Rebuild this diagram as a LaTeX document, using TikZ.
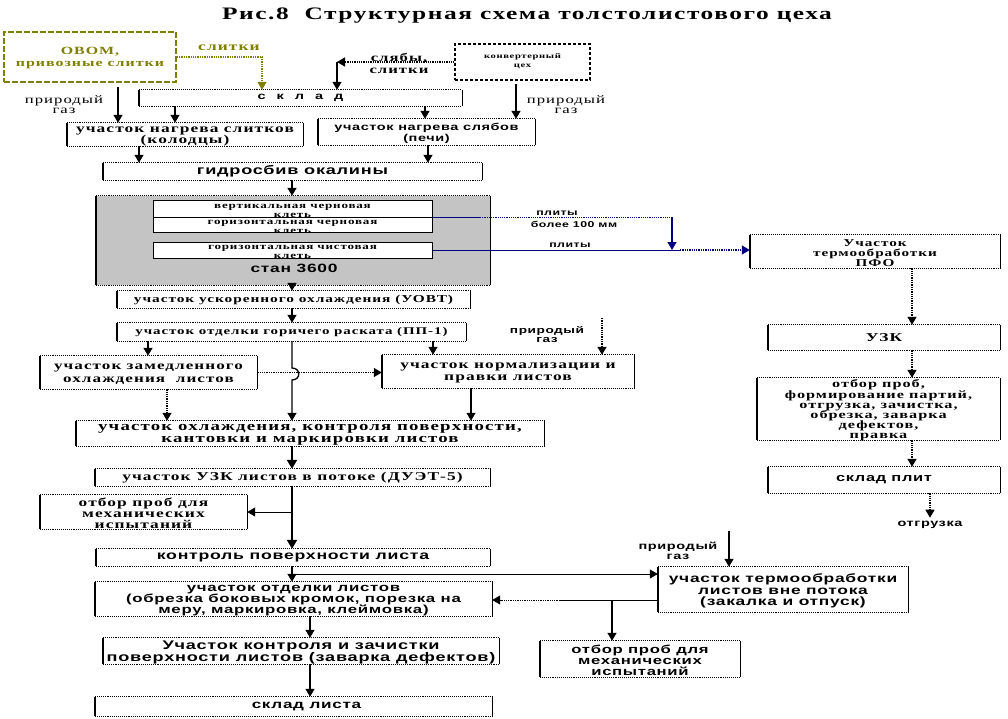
\documentclass[tikz,border=0pt]{standalone}
\usepackage{fontspec}
\newfontfamily\fsr[FakeStretch=1.45,LetterSpace=9]{Liberation Serif}
\newfontfamily\fss[FakeStretch=1.45,LetterSpace=6]{Liberation Sans}
\usetikzlibrary{arrows.meta,calc}
\definecolor{olivec}{HTML}{808000}
\definecolor{navyc}{HTML}{000080}
\definecolor{grayf}{HTML}{C4C4C4}
\newcommand\zb[1]{\raisebox{\dimexpr(\depth-\height)/2-1.5pt\relax}[0pt][0pt]{\vbox{\lineskiplimit=-100pt\def\\{\cr}\halign{\hfil##\hfil\cr#1\crcr}}}}
\tikzset{
  box/.style={fill=white, inner sep=0pt, anchor=center,
    append after command={
      (\tikzlastnode.north west) edge[line width=1.4pt] (\tikzlastnode.south west)
      (\tikzlastnode.north east) edge[line width=1.4pt] (\tikzlastnode.south east)
      (\tikzlastnode.north west) edge[line width=1.1pt, densely dotted] (\tikzlastnode.north east)
      (\tikzlastnode.south west) edge[line width=1.1pt, densely dotted] (\tikzlastnode.south east)}},
  plain/.style={draw, fill=white, inner sep=0pt, anchor=center},
  sz/.style 2 args={minimum width=#1pt, minimum height=#2pt},
  sr/.style 2 args={font=\fsr\bfseries\fontsize{#1}{#2}\selectfont},
  srl/.style 2 args={font=\fsr\fontsize{#1}{#2}\selectfont},
  ss/.style 2 args={font=\fss\bfseries\fontsize{#1}{#2}\selectfont},
  arr/.style={-{Triangle[width=9pt,length=8pt]}, line width=1.3pt},
  thk/.style={-{Triangle[width=10pt,length=9pt]}, line width=2.6pt},
  dot/.style={densely dotted}
}
\begin{document}
\begin{tikzpicture}[x=1pt,y=-1pt]
\useasboundingbox[fill=white] (0,0) rectangle (1008,719);
% title
\node[sr={17.5}{19}] (title) at (527,16) {Рис.8~~Структурная схема толстолистового цеха};
% top
\node[plain, sz={172}{50}, draw=olivec, line width=1.5pt, dash pattern=on 6pt off 2pt, text=olivec, sr={11}{12}] (ovom) at (90,57) {\zb{ОВОМ,\\привозные слитки}};
\node[text=olivec, sr={12}{12}] (slt) at (229,48) {слитки};
\node[box, sz={323}{16}, ss={10}{10}] (sklad) at (300.5,98) {с\hspace{11pt}к\hspace{11pt}л\hspace{11pt}а\hspace{11pt}д};
\node[plain, sz={135}{36}, densely dashed, line width=1.2pt, sr={7.3}{9}] (conv) at (522.5,62) {\raisebox{4pt}{\zb{конвертерный\\цех}}};
\node[sr={11.5}{12.5}] (sl) at (399,62) {\zb{слябы,\\слитки}};
\node[srl={11.5}{10}] (g1t) at (64,103) {\zb{природый\\газ}};
\node[srl={11.5}{10}] (g2t) at (566,103) {\zb{природый\\газ}};
\node[box, sz={236}{23}, sr={12}{11}] (nagrslit) at (185,134.5) {\zb{участок нагрева слитков\\(колодцы)}};
\node[box, sz={217}{26}, ss={10}{11}] (nagrslab) at (426.5,132) {\zb{участок нагрева слябов\\(печи)}};
\node[box, sz={379}{17}, ss={12.5}{12}] (gidro) at (292.5,171.5) {гидросбив окалины};
% mill
\node[box, sz={394}{89}, fill=grayf] (stan) at (293,240.5) {};
\node[plain, line width=1pt, sz={279}{17}, sr={9}{9}] (k1) at (292.5,209.5) {\zb{вертикальная черновая\\клеть}};
\node[plain, line width=1pt, sz={279}{15}, sr={9}{9}] (k2) at (292.5,225.5) {\zb{горизонтальная черновая\\клеть}};
\node[plain, line width=1pt, sz={279}{16}, sr={9}{9}] (k3) at (292.5,250) {\zb{горизонтальная чистовая\\клеть}};
\node[ss={12}{12}] (stant) at (294,268) {стан 3600};
% right column
\node[box, sz={250}{33}, sr={10.5}{10}] (pfo) at (875,251.5) {\zb{Участок\\термообработки\\ПФО}};
\node[box, sz={232}{25}, sr={12}{12}] (uzk) at (884,337.5) {УЗК};
\node[box, sz={243}{62}, sr={11.2}{10.2}] (otborp) at (878.5,409) {\zb{отбор проб,\\формирование партий,\\отгрузка, зачистка,\\обрезка, заварка\\дефектов,\\правка}};
\node[box, sz={232}{26}, ss={11.3}{12}] (skladp) at (884,480) {склад плит};
\node[ss={10}{10}] (otgr) at (930,525) {отгрузка};
\node[ss={8.5}{9}] (pl1) at (557,213) {плиты};
\node[ss={8.5}{9}] (pl2) at (574,224) {более 100 мм};
\node[ss={8.5}{9}] (pl3) at (570,245) {плиты};
% left column
\node[box, sz={353}{17}, sr={10.6}{11}] (uovt) at (293.5,299.5) {участок ускоренного охлаждения (УОВТ)};
\node[box, sz={349}{18}, sr={10.3}{11}] (pp1) at (291.5,332) {участок отделки горичего раската (ПП-1)};
\node[box, sz={217}{33}, sr={11.8}{12.5}] (zamed) at (148.5,372.5) {\zb{участок замедленного\\охлаждения~~листов}};
\node[box, sz={252}{33}, sr={12}{12.5}] (norm) at (508,371.5) {\zb{участок нормализации и\\правки листов}};
\node[ss={9.4}{9.5}] (g3t) at (547,333) {\zb{природый\\газ}};
\node[box, sz={468}{25}, sr={13}{12}] (ohl) at (310,433.5) {\zb{участок охлаждения, контроля поверхности,\\кантовки и маркировки листов}};
\node[box, sz={395}{17}, sr={12}{12}] (duet) at (292.5,477.5) {участок УЗК листов в потоке (ДУЭТ-5)};
\node[box, sz={207}{34}, sr={12}{11}] (otbor1) at (143.5,512) {\zb{отбор проб для\\механических\\испытаний}\hspace{18pt}};
\node[box, sz={394}{17}, ss={12.2}{12}] (kontr) at (293,557.5) {контроль поверхности листа};
\node[box, sz={397}{34}, ss={11.6}{10.8}] (otdel) at (293.5,599) {\zb{участок отделки листов\\(обрезка боковых кромок, порезка на\\меру, маркировка, клеймовка)}};
\node[box, sz={396}{26}, ss={12.5}{11.5}] (zach) at (301,651) {\zb{Участок контроля и зачистки\\поверхности листов (заварка дефектов)}};
\node[box, sz={397}{19}, ss={11.8}{12}] (skladl) at (293.5,706.5) {\hspace{26pt}склад листа};
\node[box, sz={250}{45}, ss={12}{11.5}] (termo) at (783,589.5) {\zb{участок термообработки\\листов вне потока\\(закалка и отпуск)}};
\node[box, sz={200}{36}, ss={11.5}{11}] (otbor2) at (640,659) {\zb{отбор проб для\\механических\\испытаний}};
\node[ss={10}{10}] (g4t) at (678,549) {\zb{природый\\газ}};
% ---- connectors ----
\draw[arr, olivec, dot] (ovom.east) -| (262,0 |- sklad.north);
\coordinate (cj) at (337,0 |- conv.west);
\draw[arr, dot] (conv.west) -- (cj);
\draw[arr] (cj) -- (cj |- sklad.north);
\coordinate (g1) at (118,87);
\draw[arr] (g1) -- (g1 |- nagrslit.north);
\draw[arr] (175,0 |- sklad.south) -- (175,0 |- nagrslit.north);
\draw[arr] (425,0 |- sklad.south) -- (425,0 |- nagrslab.north);
\coordinate (g2) at (516,84);
\draw[arr] (g2) -- (g2 |- nagrslab.north);
\draw[arr] (139,0 |- nagrslit.south) -- (139,0 |- gidro.north);
\draw[arr] (428,0 |- nagrslab.south) -- (428,0 |- gidro.north);
\draw[arr] (292,0 |- gidro.south) -- (292,0 |- stan.north);
% blue
\draw[navyc, line width=1pt] (k2.north east) -- (480,0 |- k2.north east);
\draw[navyc, line width=1.2pt, dot] (480,0 |- k2.north east) -- (672,0 |- k2.north east) coordinate (bc);
\draw[arr, navyc] (bc) -- (bc |- k3.east);
\draw[navyc, line width=1pt] (k3.east) -- (680,0 |- k3.east);
\draw[arr, navyc, dot] (680,0 |- k3.east) -- (k3.east -| pfo.west);
% right chain
\draw[arr, dot] (912,0 |- pfo.south) -- (912,0 |- uzk.north);
\draw[arr, dot] (912,0 |- uzk.south) -- (912,0 |- otborp.north);
\draw[arr, dot] (912,0 |- otborp.south) -- (912,0 |- skladp.north);
\draw[arr, dot] (930,0 |- skladp.south) -- (otgr.north);
% left chain
\draw[arr] (292,0 |- stan.south) -- (292,0 |- uovt.north);
\draw[arr] (292,0 |- uovt.south) -- (292,0 |- pp1.north);
\draw[arr] (148,0 |- pp1.south) -- (148,0 |- zamed.north);
\draw[arr] (433,0 |- pp1.south) -- (433,0 |- norm.north);
\draw[arr] (292,0 |- pp1.south) -- (292,368) .. controls (301,368) and (301,380) .. (292,380) -- (292,0 |- ohl.north);
\draw[arr, dot] (zamed.east) -- (zamed.east -| norm.west);
\coordinate (g3) at (602,318);
\draw[arr, dot] (g3) -- (g3 |- norm.north);
\draw[arr, dot] (167,0 |- zamed.south) -- (167,0 |- ohl.north);
\draw[arr] (471,0 |- norm.south) -- (471,0 |- ohl.north);
\draw[thk] (292,0 |- ohl.south) -- (292,0 |- duet.north);
\draw[thk] (292,0 |- duet.south) -- (292,0 |- kontr.north);
\coordinate (b1) at (291,512);
\draw[arr, line width=1pt] (b1) -- (b1 -| otbor1.east);
\draw[arr] (292,0 |- kontr.south) -- (292,0 |- otdel.north);
\coordinate (b2) at (292,574);
\draw[arr, line width=1pt] (b2) -- (b2 -| termo.west);
\draw[line width=1pt] (termo.west |- 0,600) -- (560,600);
\draw[arr, dot, line width=1pt] (560,600) -- (otdel.east |- 0,600);
\coordinate (b3) at (612,600);
\draw[arr] (b3) -- (b3 |- otbor2.north);
\coordinate (g4) at (729,531);
\draw[arr] (g4) -- (g4 |- termo.north);
\draw[arr] (310,0 |- otdel.south) -- (310,0 |- zach.north);
\draw[arr] (310,0 |- zach.south) -- (310,0 |- skladl.north);
\end{tikzpicture}
\end{document}
